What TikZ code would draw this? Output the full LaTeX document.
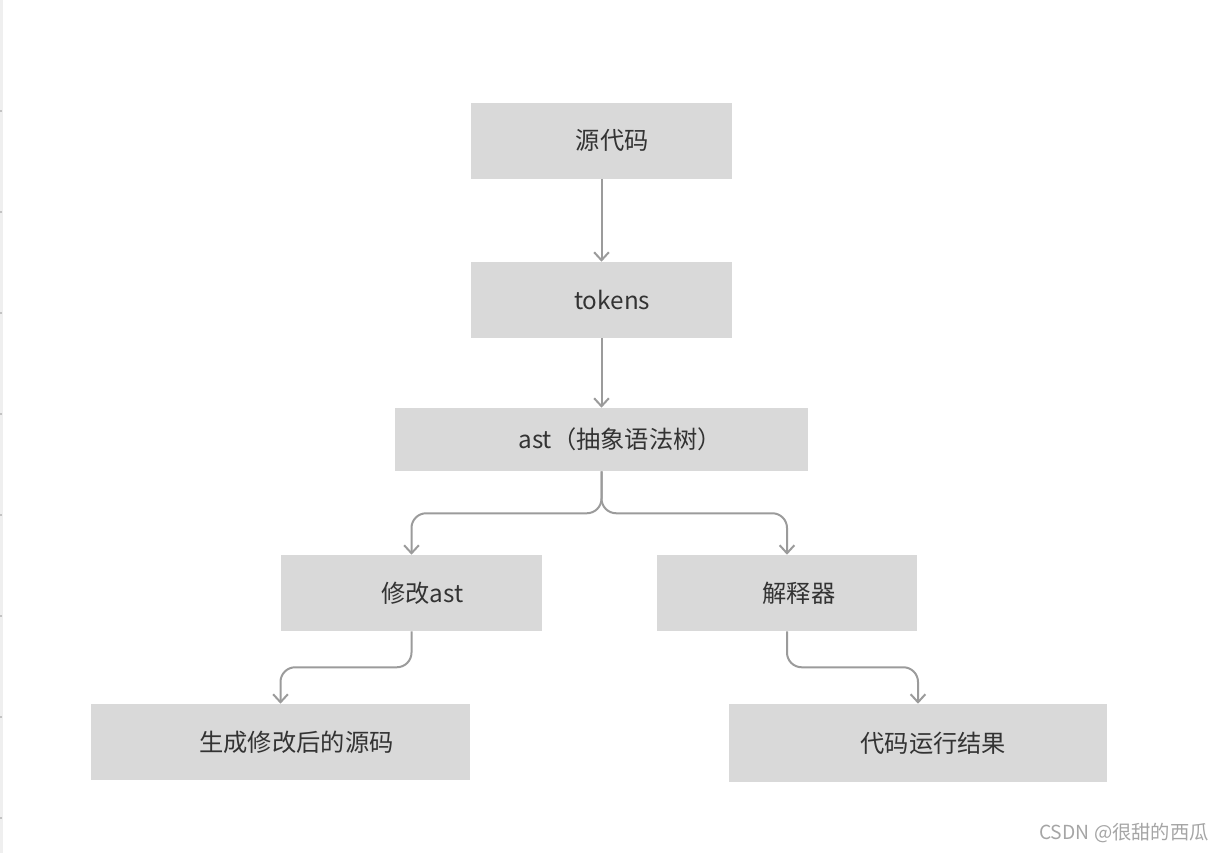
\documentclass[tikz,border=0pt]{standalone}
\usepackage{fontspec}
\setmainfont{Noto Sans CJK SC}
\usetikzlibrary{arrows.meta}
\definecolor{boxgray}{HTML}{D9D9D9}
\definecolor{linegray}{HTML}{9B9B9B}
\definecolor{textgray}{HTML}{333333}
\definecolor{stripgray}{HTML}{EFEFEF}

\begin{document}
\begin{tikzpicture}[x=0.75pt, y=-0.75pt,
    box/.style={fill=boxgray, minimum height=57pt, inner sep=0pt, text=textgray,
        font=\fontsize{18.2}{22}\selectfont, align=center},
    conn/.style={draw=linegray, line width=1.5pt, rounded corners=11pt,
        -{Straight Barb[length=6pt, width=11pt]}}]
            \useasboundingbox (0,0) rectangle (1225,853);
            \fill[stripgray] (0,0) rectangle (3,853);
            \foreach \y in {111,212,313,414,515,616,717,818}
                \fill[linegray!60] (0,\y-1) rectangle (2,\y+1);
            \node[box, minimum width=195.75pt] (src) at (601.5,140.5) {\hspace*{16pt}源代码};
            \node[box, minimum width=195.75pt] (tokens) at (601.5,300) {\hspace*{16pt}tokens};
            \node[box, minimum width=309.75pt, minimum height=47.25pt] (ast) at (601.5,439.5) {\hspace*{28pt}ast（抽象语法树）};
            \node[box, minimum width=195.75pt] (modast) at (411.5,593) {\hspace*{16pt}修改ast};
            \node[box, minimum width=195pt] (interp) at (787,593) {\hspace*{18pt}解释器};
            \node[box, minimum width=284.25pt] (gensrc) at (280.5,742) {\hspace*{24pt}生成修改后的源码};
            \node[box, minimum width=283.5pt, minimum height=58.5pt] (result) at (918,743) {\hspace*{23pt}代码运行结果};
            \draw[conn] (src) -- (tokens);
            \draw[conn] (tokens) -- (ast);
            \draw[conn] (ast.south) -- ++(0,42) -| (modast.north);
            \draw[conn] (ast.south) -- ++(0,42) -| (interp.north);
            \draw[conn] (modast.south) -- ++(0,36) -| (gensrc.north);
            \draw[conn] (interp.south) -- ++(0,36) -| (result.north);
            \node[text=linegray!90, font=\fontsize{14.5}{17}\selectfont] (mark) at (1124,833) {CSDN @很甜的西瓜};
        \end{tikzpicture}
\end{document}
